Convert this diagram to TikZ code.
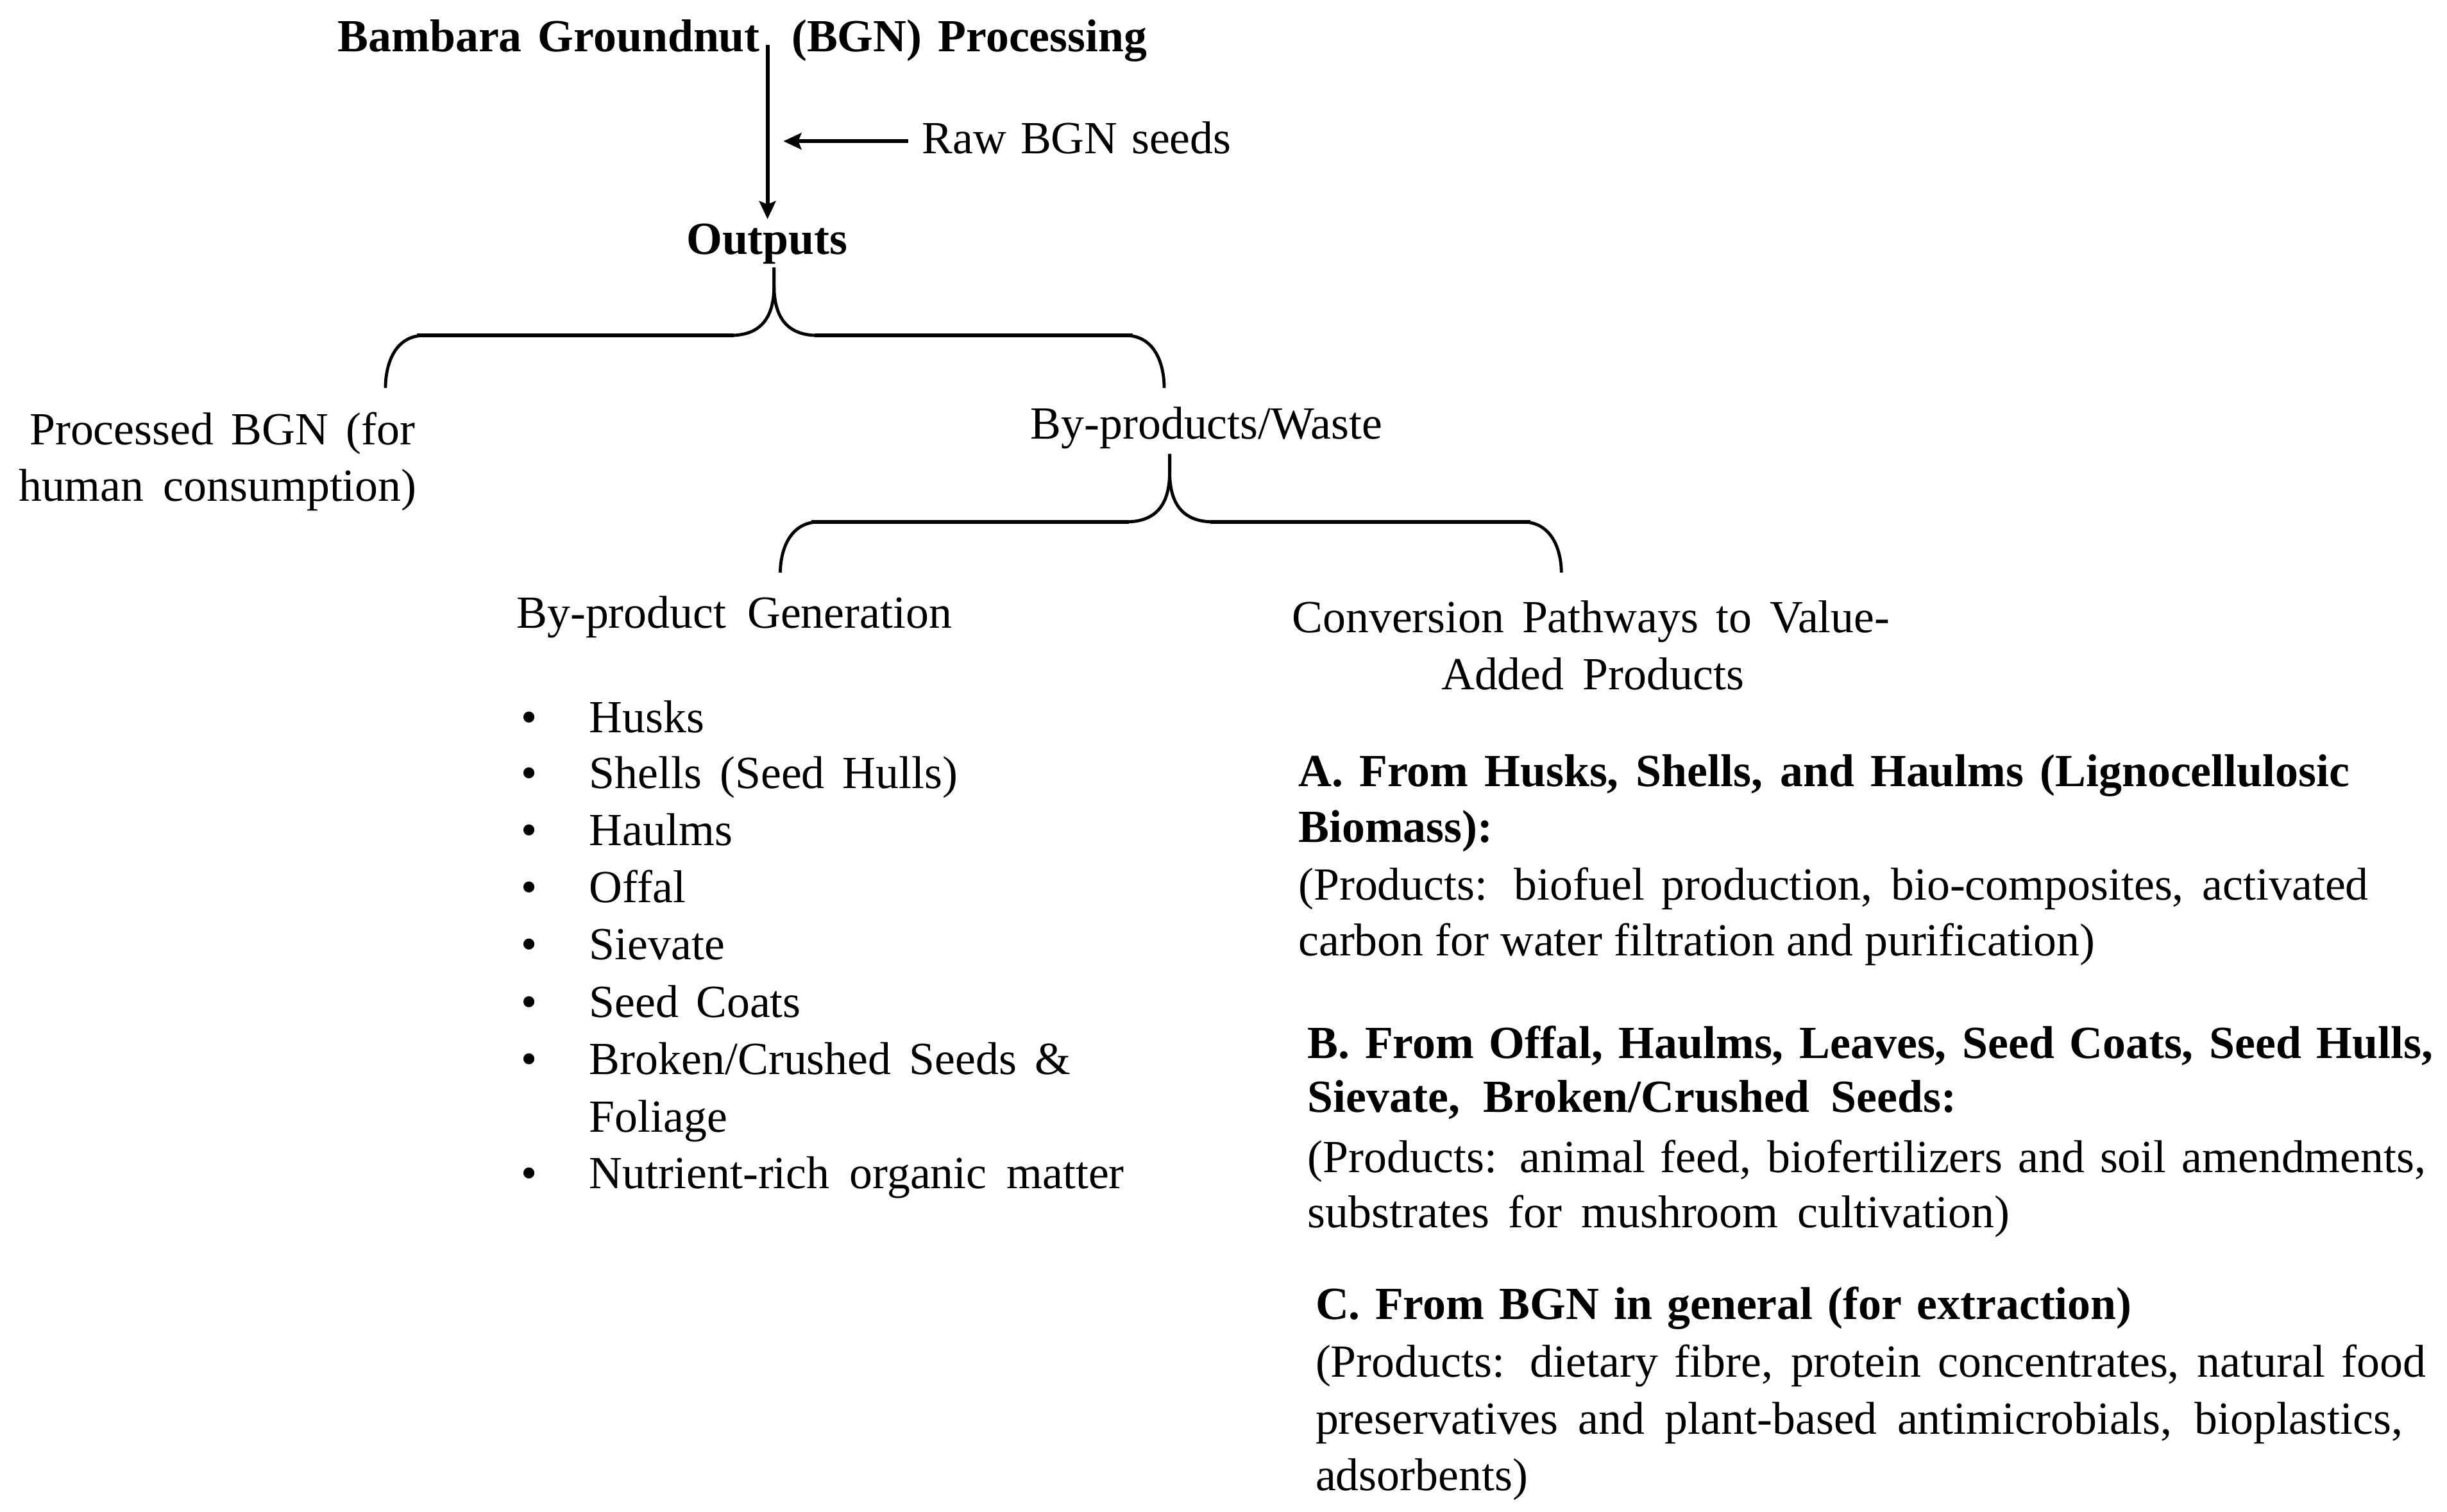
\documentclass[tikz,border=0pt]{standalone}
\usepackage{fontspec}
\setmainfont{Liberation Serif}
\usetikzlibrary{arrows.meta}
\tikzset{
  txt/.style={inner sep=0pt, outer sep=0pt, font=\fontsize{29.5}{36}\selectfont},
  btxt/.style={inner sep=0pt, outer sep=0pt, font=\fontsize{29.5}{36}\selectfont\bfseries},
  flow/.style={line width=2.4pt, -{Stealth[length=11.5pt,width=10.5pt,inset=2pt]}},
  bcurve/.style={line width=2pt},
  bflat/.style={line width=2.7pt},
}
% #1 left x, #2 tip x, #3 right x, #4 y of flat part, #5 y of arm ends
\newcommand{\bgnbrace}[5]{%
  \draw[bcurve] (#1,#5) .. controls (#1,#4+20) and (#1+5,#4) .. (#1+25,#4)
     -- (#2-28,#4) .. controls (#2-8,#4) and (#2,#4-12) .. (#2,#4-32) -- (#2,#4-43.6);
  \draw[bcurve] (#2,#4-43.6) -- (#2,#4-32) .. controls (#2,#4-12) and (#2+8,#4) .. (#2+28,#4)
     -- (#3-25,#4) .. controls (#3-5,#4) and (#3,#4+20) .. (#3,#5);
  \draw[bflat] (#1+20,#4) -- (#2-26,#4);
  \draw[bflat] (#2+26,#4) -- (#3-20,#4);
}
\begin{document}
\begin{tikzpicture}[x=1pt,y=-1pt]
\useasboundingbox (0,0) rectangle (1568,969);

% top part
\node[btxt, anchor=base west] (title) at (216.5,32.9) {\makebox[518.5pt][s]{Bambara Groundnut\hspace{10pt} (BGN) Processing}};
\coordinate (vtop) at (491.8,28.8);
\node[btxt, anchor=base, outer sep=3pt] (outputs) at (491.5,163) {Outputs};
\node[txt, anchor=base west] (raw) at (591,98.6) {\makebox[198pt][s]{Raw BGN seeds}};
\draw[flow] (vtop) -- (vtop |- outputs.north);
\draw[flow, shorten >=10.2pt] ([xshift=-9pt,yshift=-2pt]raw.west) -- ([yshift=-2pt]raw.west -| vtop);

% brace 1
\bgnbrace{247}{496}{746}{215}{248.7}

\node[txt, anchor=base west] (proc1) at (19,285.2) {\makebox[247pt][s]{Processed BGN (for}};
\node[txt, anchor=base west] (proc2) at (12,321.3) {\makebox[255pt][s]{human consumption)}};
\node[txt, anchor=base west] (byw) at (660.4,281.5) {By-products/Waste};

% brace 2
\bgnbrace{500}{749.5}{1000.5}{334.5}{367}

\node[txt, anchor=base west] (bpg) at (331,402.5) {\makebox[279pt][s]{By-product Generation}};
\node[txt, anchor=base west] (conv1) at (828,405.5) {\makebox[383pt][s]{Conversion Pathways to Value-}};
\node[txt, anchor=base west] (conv2) at (923.6,441.9) {\makebox[194pt][s]{Added Products}};

% bullet list
\node[txt, anchor=base] (bu1) at (339,469.5) {\textbullet};
\node[txt, anchor=base] (bu2) at (339,505.5) {\textbullet};
\node[txt, anchor=base] (bu3) at (339,542) {\textbullet};
\node[txt, anchor=base] (bu4) at (339,578.5) {\textbullet};
\node[txt, anchor=base] (bu5) at (339,615) {\textbullet};
\node[txt, anchor=base] (bu6) at (339,652) {\textbullet};
\node[txt, anchor=base] (bu7) at (339,688.5) {\textbullet};
\node[txt, anchor=base] (bu8) at (339,761.7) {\textbullet};
\node[txt, anchor=base west] (it1) at (377.7,469.5) {Husks};
\node[txt, anchor=base west] (it2) at (377.7,505.5) {\makebox[236pt][s]{Shells (Seed Hulls)}};
\node[txt, anchor=base west] (it3) at (377.7,542) {Haulms};
\node[txt, anchor=base west] (it4) at (377.7,578.5) {Offal};
\node[txt, anchor=base west] (it5) at (377.7,615) {Sievate};
\node[txt, anchor=base west] (it6) at (377.7,652) {\makebox[135.6pt][s]{Seed Coats}};
\node[txt, anchor=base west] (it7) at (377.7,688.5) {\makebox[308.6pt][s]{Broken/Crushed Seeds \&}};
\node[txt, anchor=base west] (it7b) at (377.7,725.5) {Foliage};
\node[txt, anchor=base west] (it8) at (377.7,761.7) {\makebox[342.7pt][s]{Nutrient-rich organic matter}};

% A block
\node[btxt, anchor=base west] (a1) at (832,504) {\makebox[673.6pt][s]{A. From Husks, Shells, and Haulms (Lignocellulosic}};
\node[btxt, anchor=base west] (a2) at (832,539.8) {Biomass):};
\node[txt, anchor=base west] (a3) at (832,576.8) {\makebox[685.7pt][s]{(Products: biofuel production, bio-composites, activated}};
\node[txt, anchor=base west] (a4) at (832,612.4) {carbon for water filtration and purification)};

% B block
\node[btxt, anchor=base west] (b1) at (838,678.3) {\makebox[721pt][s]{B. From Offal, Haulms, Leaves, Seed Coats, Seed Hulls,}};
\node[btxt, anchor=base west] (b2) at (838,713) {\makebox[415.6pt][s]{Sievate, Broken/Crushed Seeds:}};
\node[txt, anchor=base west] (b3) at (838,751.4) {\makebox[716.5pt][s]{(Products: animal feed, biofertilizers and soil amendments,}};
\node[txt, anchor=base west] (b4) at (838,787) {\makebox[449.8pt][s]{substrates for mushroom cultivation)}};

% C block
\node[btxt, anchor=base west] (c1) at (843,845.5) {\makebox[523pt][s]{C. From BGN in general (for extraction)}};
\node[txt, anchor=base west] (c2) at (843,882.5) {\makebox[711.5pt][s]{(Products: dietary fibre, protein concentrates, natural food}};
\node[txt, anchor=base west] (c3) at (843,919.4) {\makebox[696.7pt][s]{preservatives and plant-based antimicrobials, bioplastics,}};
\node[txt, anchor=base west] (c4) at (843,955.5) {adsorbents)};
\end{tikzpicture}
\end{document}
